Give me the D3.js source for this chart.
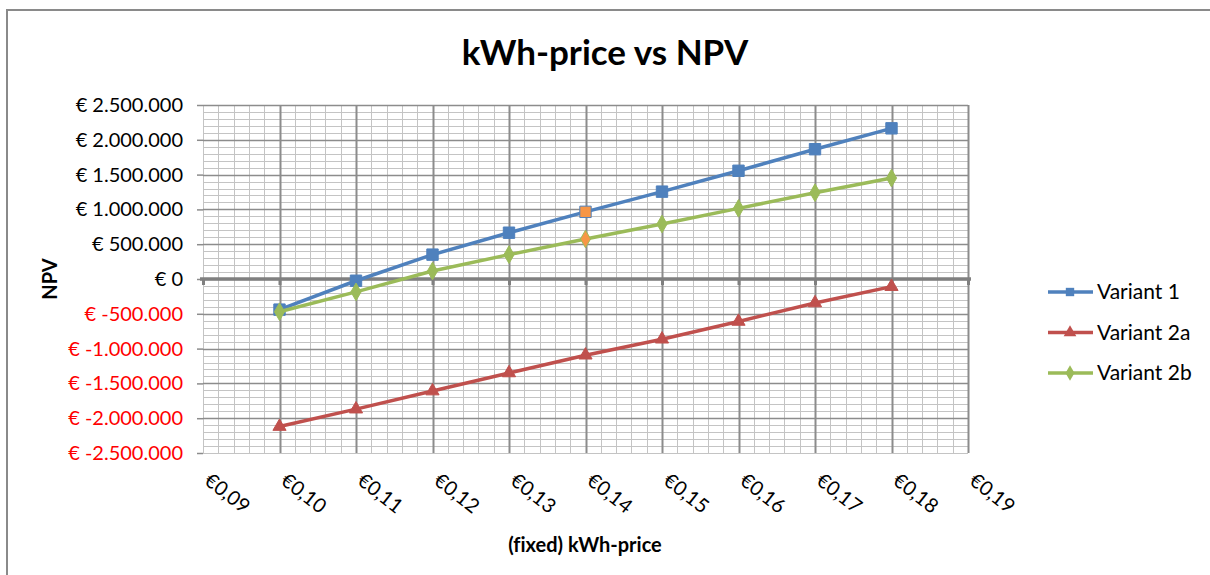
<!DOCTYPE html>
<html lang="en">
<head>
    <meta charset="UTF-8">
    <title>kWh-price vs NPV</title>
    <script src="https://d3js.org/d3.v7.min.js"></script>
    <style>
        body {
            margin: 0;
            background: white;
            font-family: Lato, "Open Sans", Arial, sans-serif;
            font-variant-ligatures: none;
        }
        .tick-label {
            font-size: 20px;
            font-family: Lato, sans-serif;
        }
    </style>
</head>
<body>
<div id="chart"></div>
<script>

const prices = [0.10, 0.11, 0.12, 0.13, 0.14, 0.15, 0.16, 0.17, 0.18];
const variant1 = [-440000, -25000, 350000, 665000, 965000, 1255000, 1555000, 1865000, 2165000];
const variant2a = [-2120000, -1870000, -1610000, -1350000, -1095000, -865000, -610000, -345000, -110000];
const variant2b = [-470000, -185000, 115000, 350000, 575000, 790000, 1015000, 1240000, 1450000];
const highlightIndex = 4; // the €0,14 point is drawn orange in the original

const xTicks = [0.09, 0.10, 0.11, 0.12, 0.13, 0.14, 0.15, 0.16, 0.17, 0.18, 0.19];
const yTicks = [2500000, 2000000, 1500000, 1000000, 500000, 0, -500000, -1000000, -1500000, -2000000, -2500000];

const series = [
    { name: "Variant 1", values: variant1, color: "#4F81BD", marker: "square" },
    { name: "Variant 2a", values: variant2a, color: "#C0504D", marker: "triangle" },
    { name: "Variant 2b", values: variant2b, color: "#9BBB59", marker: "diamond" }
];

const W = 1210, H = 575;
const plot = { left: 203, right: 968, top: 105, bottom: 453 };

const svg = d3.select("#chart")
    .append("svg")
    .attr("width", W)
    .attr("height", H);

// outer chart border (only top and left are inside the picture)
svg.append("rect")
    .attr("x", 7)
    .attr("y", 10)
    .attr("width", 1400)
    .attr("height", 800)
    .attr("fill", "none")
    .attr("stroke", "#8a8a8a")
    .attr("stroke-width", 2);

const x = d3.scaleLinear().domain([0.09, 0.19]).range([plot.left, plot.right]);
const y = d3.scaleLinear().domain([-2500000, 2500000]).range([plot.bottom, plot.top]);

const nl = d3.formatLocale({ decimal: ",", thousands: ".", grouping: [3], currency: ["€", ""] });
const fmtY = v => "€ " + (v < 0 ? "-" : "") + nl.format(",d")(Math.abs(v));
const fmtX = v => "€" + nl.format(".2f")(v);

// minor grid
const minorX = d3.range(0, 51).map(i => 0.09 + i * 0.002);
const minorY = d3.range(0, 51).map(i => -2500000 + i * 100000);
const grid = svg.append("g");
grid.selectAll(".mx").data(minorX).enter().append("line")
    .attr("x1", d => Math.round(x(d)) + 0.5).attr("x2", d => Math.round(x(d)) + 0.5)
    .attr("y1", plot.top).attr("y2", plot.bottom)
    .attr("stroke", "#c4c4c4").attr("stroke-width", 1);
grid.selectAll(".my").data(minorY).enter().append("line")
    .attr("y1", d => Math.round(y(d)) + 0.5).attr("y2", d => Math.round(y(d)) + 0.5)
    .attr("x1", plot.left).attr("x2", plot.right)
    .attr("stroke", "#c4c4c4").attr("stroke-width", 1);

// major grid
grid.selectAll(".Mx").data(xTicks.slice(1)).enter().append("line")
    .attr("x1", d => Math.round(x(d)) + 0.5).attr("x2", d => Math.round(x(d)) + 0.5)
    .attr("y1", plot.top).attr("y2", plot.bottom)
    .attr("stroke", "#8c8c8c").attr("stroke-width", 2);
grid.selectAll(".My").data(yTicks.slice(0, -1)).enter().append("line")
    .attr("y1", d => Math.round(y(d)) + 0.5).attr("y2", d => Math.round(y(d)) + 0.5)
    .attr("x1", plot.left).attr("x2", plot.right)
    .attr("stroke", "#8c8c8c").attr("stroke-width", 1.5);

// y axis ticks + labels
const yAxis = svg.append("g")
    .attr("transform", `translate(${plot.left},0)`)
    .call(d3.axisLeft(y).tickValues(yTicks).tickSize(6).tickPadding(14).tickFormat(fmtY));
yAxis.select(".domain").remove();
yAxis.selectAll(".tick line").attr("stroke", "#8c8c8c").attr("stroke-width", 1.5);
yAxis.selectAll(".tick text")
    .attr("class", "tick-label")
    .attr("fill", d => d < 0 ? "#ff0000" : "#000");

// x axis on the zero line
const xAxis = svg.append("g")
    .attr("transform", `translate(0,${y(0)})`)
    .call(d3.axisBottom(x).tickValues(xTicks).tickSize(6).tickFormat(""));
xAxis.select(".domain").attr("stroke", "#808080").attr("stroke-width", 3.5)
    .attr("d", `M${plot.left - 3},0H${plot.right + 3}`);
xAxis.selectAll(".tick line").attr("stroke", "#808080").attr("stroke-width", 3);

// x labels below the plot, rotated
svg.append("g").selectAll("text")
    .data(xTicks).enter().append("text")
    .attr("class", "tick-label")
    .attr("transform", d => `translate(${x(d)},${plot.bottom + 30}) rotate(38)`)
    .attr("text-anchor", "start")
    .attr("fill", "#000")
    .text(fmtX);

// lines
const line = d3.line()
    .x((d, i) => x(prices[i]))
    .y(d => y(d));

const markerPath = {
    square: d3.symbol().type(d3.symbolSquare).size(130),
    triangle: d3.symbol().type(d3.symbolTriangle).size(75),
    diamond: d3.symbol().type(d3.symbolDiamond).size(90)
};

series.forEach(s => {
    svg.append("path")
        .datum(s.values)
        .attr("d", line)
        .attr("fill", "none")
        .attr("stroke", s.color)
        .attr("stroke-width", 3.5)
        .attr("stroke-linejoin", "round");

    svg.selectAll(null)
        .data(s.values)
        .enter()
        .append("path")
        .attr("d", markerPath[s.marker])
        .attr("transform", (d, i) => `translate(${x(prices[i])},${y(d)})`)
        .attr("fill", (d, i) => i === highlightIndex && s.marker !== "triangle" ? "#F79646" : s.color)
        .attr("stroke", s.color)
        .attr("stroke-width", 1);
});

// legend
const legend = svg.append("g").attr("transform", "translate(1048,292)");
series.forEach((s, i) => {
    const g = legend.append("g").attr("transform", `translate(0,${i * 40.5})`);
    g.append("line")
        .attr("x1", 0).attr("x2", 45)
        .attr("stroke", s.color).attr("stroke-width", 3.5);
    g.append("path")
        .attr("d", d3.symbol().type(s.marker === "square" ? d3.symbolSquare
            : s.marker === "triangle" ? d3.symbolTriangle : d3.symbolDiamond).size(70))
        .attr("transform", "translate(22,0)")
        .attr("fill", s.color);
    g.append("text")
        .attr("x", 49)
        .attr("y", 0)
        .attr("dy", "0.35em")
        .attr("class", "tick-label")
        .style("font-size", "21px")
        .attr("fill", "#000")
        .text(s.name);
});

// title
svg.append("text")
    .attr("x", 605)
    .attr("y", 65)
    .attr("text-anchor", "middle")
    .style("font-size", "35px")
    .style("font-weight", "bold")
    .text("kWh-price vs NPV");

// axis titles
svg.append("text")
    .attr("x", 585)
    .attr("y", 552)
    .attr("text-anchor", "middle")
    .style("font-size", "20px")
    .style("font-weight", "bold")
    .text("(fixed) kWh-price");

svg.append("text")
    .attr("transform", `translate(57,${y(0)}) rotate(-90)`)
    .attr("text-anchor", "middle")
    .style("font-size", "20px")
    .style("font-weight", "bold")
    .text("NPV");
</script>
</body>
</html>
